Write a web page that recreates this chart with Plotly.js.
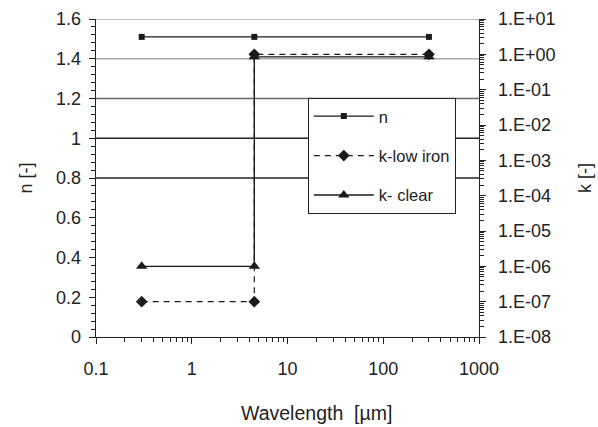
<!DOCTYPE html>
<html>
<head>
<meta charset="utf-8">
<script src="https://cdn.plot.ly/plotly-3.0.1.min.js"></script>
<style>html,body{margin:0;padding:0;background:#fff;}#chart{width:598px;height:427px;}</style>
</head>
<body>
<div id="chart"></div>
<script>
// Data
const wavelengthN = [0.3, 4.5, 300];
const nValues = [1.51, 1.51, 1.51];
const wavelengthK = [0.3, 4.5, 4.5, 300];
const kLowIron = [1e-7, 1e-7, 1, 1];
const kClear = [1e-6, 1e-6, 0.85, 0.85];

const xTickVals = [0.1, 1, 10, 100, 1000];
const xTickText = ['0.1', '1', '10', '100', '1000'];
const nTickVals = [0, 0.2, 0.4, 0.6, 0.8, 1, 1.2, 1.4, 1.6];
const nTickText = ['0', '0.2', '0.4', '0.6', '0.8', '1', '1.2', '1.4', '1.6'];
const kTickVals = [1e-8, 1e-7, 1e-6, 1e-5, 1e-4, 1e-3, 1e-2, 1e-1, 1, 10];
const kTickText = ['1.E-08', '1.E-07', '1.E-06', '1.E-05', '1.E-04', '1.E-03', '1.E-02', '1.E-01', '1.E+00', '1.E+01'];

const gridValues = [0.8, 1, 1.2, 1.4, 1.6];
const gridColors = ['#222', '#222', '#666', '#aaa', '#aaa'];

const FONT = 'Liberation Sans, Arial, sans-serif';
const INK = '#1a1a1a';

const traces = [
  {
    x: wavelengthN, y: nValues, name: 'n', type: 'scatter', mode: 'lines+markers',
    xaxis: 'x', yaxis: 'y', legendgroup: 'a',
    line: {color: INK, width: 1.4},
    marker: {symbol: 'square', size: 6, color: INK}
  },
  {
    x: wavelengthK, y: kLowIron, name: 'k-low iron', type: 'scatter', mode: 'lines+markers',
    xaxis: 'x', yaxis: 'y2', legendgroup: 'b',
    line: {color: INK, width: 1.2, dash: '6px,5px'},
    marker: {symbol: 'diamond', size: 9, color: INK}
  },
  {
    x: wavelengthK, y: kClear, name: 'k- clear', type: 'scatter', mode: 'lines+markers',
    xaxis: 'x', yaxis: 'y2', legendgroup: 'c',
    line: {color: INK, width: 1.4},
    marker: {symbol: 'triangle-up', size: 10, color: INK}
  }
];

const shapes = gridValues.map((v, i) => ({
  type: 'line', xref: 'paper', yref: 'y', x0: 0, x1: 1, y0: v, y1: v,
  line: {color: gridColors[i], width: 1.3}, layer: 'below'
}));

const layout = {
  width: 598, height: 427,
  margin: {l: 96, r: 119, t: 19, b: 90},
  paper_bgcolor: '#fff', plot_bgcolor: '#fff',
  font: {family: FONT, size: 18, color: '#222'},
  showlegend: true,
  legend: {
    x: 0.553, y: 0.752, xanchor: 'left', yanchor: 'top',
    bgcolor: '#fff', bordercolor: '#222', borderwidth: 1,
    font: {family: FONT, size: 16.5, color: '#222'},
    tracegroupgap: 15, itemwidth: 60
  },
  xaxis: {
    type: 'log', range: [-1, 3],
    tickmode: 'array', tickvals: xTickVals, ticktext: xTickText,
    ticks: 'outside', ticklen: 6, tickcolor: '#222',
    ticklabelstandoff: 9,
    showline: true, linecolor: '#222', linewidth: 1.3,
    showgrid: false, zeroline: false,
    minor: {dtick: 'D1', ticks: 'outside', ticklen: 4, tickcolor: '#222', showgrid: false}
  },
  yaxis: {
    range: [0, 1.6],
    tickmode: 'array', tickvals: nTickVals, ticktext: nTickText,
    ticks: 'outside', ticklen: 6, tickcolor: '#222',
    ticklabelstandoff: 4,
    showline: true, linecolor: '#222', linewidth: 1.3,
    showgrid: false, zeroline: false,
    minor: {dtick: 0.04, ticks: 'outside', ticklen: 4, tickcolor: '#222', showgrid: false},
    title: {text: 'n [-]', font: {family: FONT, size: 18, color: '#222'}, standoff: 18}
  },
  yaxis2: {
    type: 'log', range: [-8, 1], overlaying: 'y', side: 'right',
    tickmode: 'array', tickvals: kTickVals, ticktext: kTickText,
    ticks: 'outside', ticklen: 6, tickcolor: '#222',
    ticklabelstandoff: 8,
    showline: true, linecolor: '#222', linewidth: 1.3,
    showgrid: false, zeroline: false,
    minor: {dtick: 'D1', ticks: 'outside', ticklen: 4, tickcolor: '#222', showgrid: false},
    title: {text: 'k [-]', font: {family: FONT, size: 18, color: '#222'}, standoff: 24}
  },
  annotations: [{
    text: 'Wavelength  [µm]', xref: 'paper', yref: 'paper',
    x: 0.577, y: -0.24, xanchor: 'center', yanchor: 'middle', showarrow: false,
    font: {family: FONT, size: 19.5, color: '#222'}
  }],
  shapes: shapes
};

Plotly.newPlot('chart', traces, layout, {displayModeBar: false, staticPlot: true});
</script>
</body>
</html>
